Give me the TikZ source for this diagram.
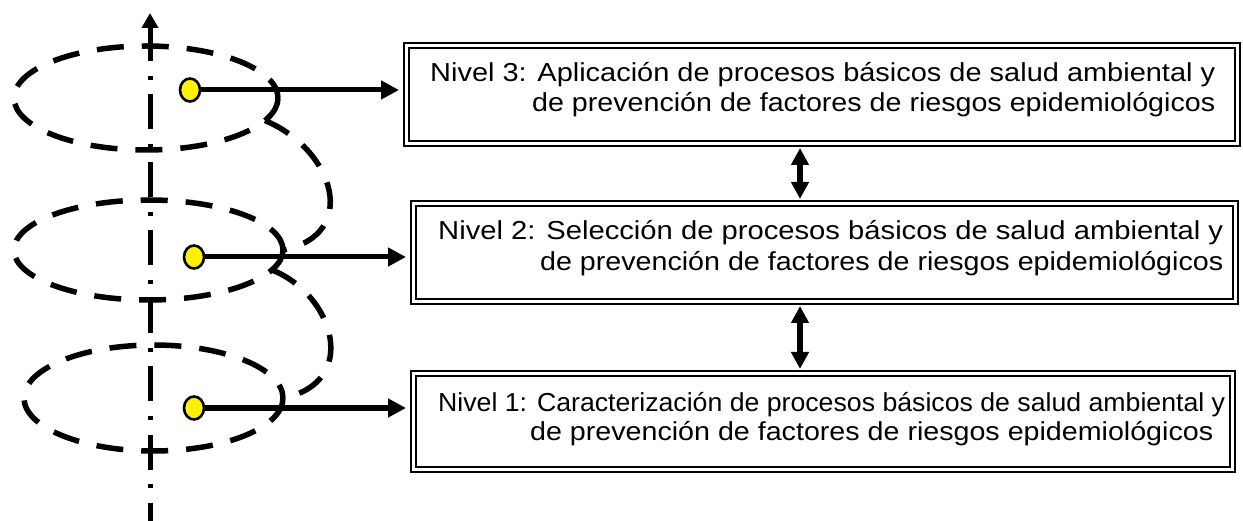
\documentclass[tikz,border=0pt]{standalone}
\usepackage{fontspec}
\usepackage{graphicx}
\setmainfont{Liberation Sans}
\usetikzlibrary{arrows.meta,shapes.geometric}
\pgfdeclarelayer{background}
\pgfsetlayers{background,main}
\newcommand{\fitline}[2]{\resizebox{#1}{\height}{#2}}
\begin{document}
\begin{tikzpicture}[x=1pt,y=-1pt,
  lvlbox/.style={draw=black, line width=2pt, double=white, double distance=3pt, rectangle, inner sep=0pt},
  dashell/.style={draw=black, line width=5.5pt, dash pattern=on 27pt off 18pt},
  axisline/.style={draw=black, line width=5pt, dash pattern=on 35pt off 14.5pt on 4pt off 14.5pt},
  ydot/.style={ellipse, draw=black, line width=2.6pt, fill=yellow, minimum width=20pt, minimum height=23pt, inner sep=0pt},
  harrow/.style={draw=black, line width=5pt, -{Triangle[length=18pt,width=18pt]}, shorten >=6.5pt},
  varrow/.style={draw=black, line width=5.5pt, {Triangle[length=17pt,width=17pt]}-{Triangle[length=17pt,width=17pt]}, shorten >=3.5pt, shorten <=3.5pt},
  lbl/.style={inner sep=0pt, font=\fontsize{26}{30}\selectfont}
]
\useasboundingbox (0,0) rectangle (1243,521);

% axis
\coordinate (axtop) at (150,13);
\coordinate (axstart) at (150,26.5);
\coordinate (axend) at (150,530);
\draw[axisline] (axstart) -- (axend);
\draw[line width=5pt, -{Triangle[length=15pt,width=16pt]}] (150,32) -- (axtop);

% ellipses of the spiral
\draw[dashell] (146,98) ellipse [x radius=132, y radius=52];
\draw[dashell] (148.5,250) ellipse [x radius=134.5, y radius=50];
\draw[dashell] (153.5,398) ellipse [x radius=129.5, y radius=53];
\draw[dashell] (265,120.5) .. controls (335,150) and (360,235) .. (283,250);
\draw[dashell] (272,270) .. controls (335,295) and (360,383) .. (283,398);

% boxes
\node[lvlbox, minimum width=831pt, minimum height=98pt] (b3) at (822,94.5) {};
\node[lvlbox, minimum width=822pt, minimum height=98pt] (b2) at (824.5,252.5) {};
\node[lvlbox, minimum width=819pt, minimum height=96pt] (b1) at (823,421.5) {};

% texts
\node[lbl, anchor=base west] (t3a) at (430,82) {\fitline{785pt}{Nivel 3: Aplicación de procesos básicos de salud ambiental y}};
\node[lbl, anchor=base west] (t3b) at (532,112) {\fitline{683pt}{de prevención de factores de riesgos epidemiológicos}};
\node[lbl, anchor=base west] (t2a) at (438,240) {\fitline{785pt}{Nivel 2: Selección de procesos básicos de salud ambiental y}};
\node[lbl, anchor=base west] (t2b) at (540,271) {\fitline{683pt}{de prevención de factores de riesgos epidemiológicos}};
\node[lbl, anchor=base west] (t1a) at (438,411) {\fitline{787pt}{Nivel 1: Caracterización de procesos básicos de salud ambiental y}};
\node[lbl, anchor=base west] (t1b) at (530,440) {\fitline{683pt}{de prevención de factores de riesgos epidemiológicos}};

% dots
\node[ydot] (d3) at (190,90) {};
\node[ydot] (d2) at (194,257) {};
\node[ydot] (d1) at (194,408) {};

% connectors
\coordinate (vx) at (800,0);
\begin{pgfonlayer}{background}
\draw[harrow] (d3.center) -- (d3.center -| b3.west);
\draw[harrow] (d2.center) -- (d2.center -| b2.west);
\draw[harrow] (d1.center) -- (d1.center -| b1.west);
\end{pgfonlayer}
\draw[varrow] (b3.south -| vx) -- (b2.north -| vx);
\draw[varrow] (b2.south -| vx) -- (b1.north -| vx);
\end{tikzpicture}
\end{document}
